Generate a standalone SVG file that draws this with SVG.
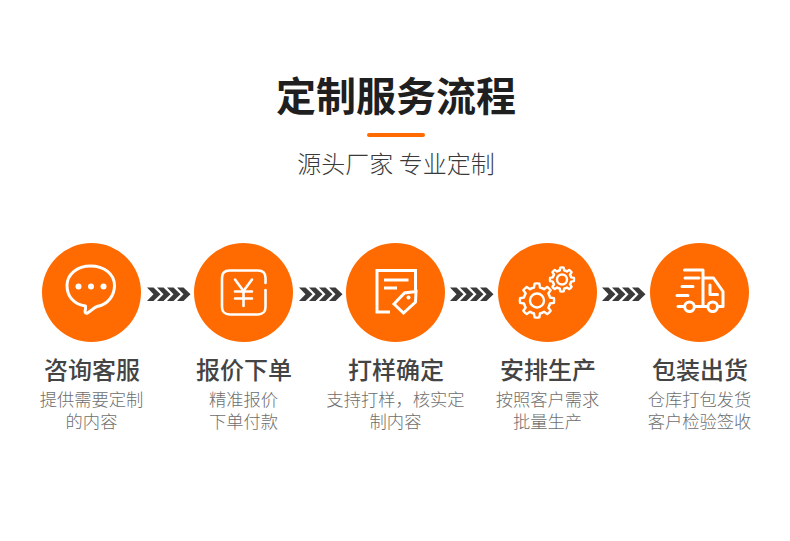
<svg xmlns="http://www.w3.org/2000/svg" width="790" height="541" viewBox="0 0 790 541">
<style>
text{font-family:"Noto Sans CJK SC","Noto Sans",sans-serif;text-anchor:middle}
.title{font-size:40px;font-weight:700;fill:#1f1f1f}
.subtitle{font-size:24px;font-weight:300;fill:#3a3a3a}
.label{font-size:24px;font-weight:500;fill:#444}
.desc{font-size:17.300px;font-weight:300;fill:#6e6e6e}
.disc{fill:#ff6b00}
.ic{fill:none;stroke:#fff;stroke-width:3;stroke-linecap:round;stroke-linejoin:round}
.sq{stroke-linecap:butt;stroke-linejoin:miter;stroke-width:3}
.chev{fill:#3a3a3a}
</style>
<defs>
<path id="c" d="M0 0H6.500L13.500 6.750L6.500 13.500H0L6.500 6.750Z"/>
<g id="chevs" class="chev">
<use href="#c"/><use href="#c" x="10"/><use href="#c" x="20"/><use href="#c" x="30"/>
</g>
<path id="t" d="M12.930-5.360A14 14 0 0 1 13.640-3.150L17.820-2.510A18 18 0 0 1 17.820 2.510L13.640 3.150A14 14 0 0 1 12.930 5.360"/>
<g id="gear">
<use href="#t"/><use href="#t" transform="rotate(45)"/><use href="#t" transform="rotate(90)"/><use href="#t" transform="rotate(135)"/><use href="#t" transform="rotate(180)"/><use href="#t" transform="rotate(225)"/><use href="#t" transform="rotate(270)"/><use href="#t" transform="rotate(315)"/>
</g>
</defs>
<rect width="790" height="541" fill="#fff"/>
<g id="header">
<text class="title" x="396" y="111">定制服务流程</text>
<rect x="367" y="133" width="58" height="4" rx="2" fill="#ff6b00"/>
<text class="subtitle" x="396" y="173">源头厂家 专业定制</text>
</g>
<g id="connectors">
<use href="#chevs" x="147" y="287.500"/>
<use href="#chevs" x="299" y="287.500"/>
<use href="#chevs" x="450" y="287.500"/>
<use href="#chevs" x="602" y="287.500"/>
</g>
<g id="node-1">
<circle class="disc" cx="91.500" cy="292.500" r="49.500"/>
<path class="ic" d="M85.500 309C84.500 312 85 314 87.500 313C91 311 94 307.500 97 306.500C108 304.500 114.500 295.500 114.500 285.500C114.500 274 104 266 90.500 266C77 266 67 274.500 67 285.500C67 296.500 74 304.500 85.500 306Z"/>
<circle cx="78.500" cy="286.500" r="3" fill="#fff"/><circle cx="91" cy="286.500" r="3" fill="#fff"/><circle cx="103.500" cy="286.500" r="3" fill="#fff"/>
<text class="label" x="92" y="379">咨询客服</text>
<text class="desc" x="91.500" y="406">提供需要定制</text>
<text class="desc" x="91.500" y="428">的内容</text>
</g>
<g id="node-2">
<circle class="disc" cx="243.500" cy="292.500" r="49.500"/>
<path class="ic" style="stroke-width:2.600" d="M265.500 283V278C265.500 273 262.500 270.500 258 270.500H229.500C225 270.500 222 273 222 278V307C222 311.500 225 314.500 229.500 314.500H258C262.500 314.500 265.500 311.500 265.500 307V290"/>
<path class="ic" style="stroke-width:2.600" d="M235 279.500L243.500 291L252 279.500M235 291.500H252M235 298.500H252M243.500 291V306"/>
<text class="label" x="244" y="379">报价下单</text>
<text class="desc" x="243.500" y="406">精准报价</text>
<text class="desc" x="243.500" y="428">下单付款</text>
</g>
<g id="node-3">
<circle class="disc" cx="395.500" cy="292.500" r="49.500"/>
<path class="ic sq" d="M390 312H377V270.500H415.500V290"/>
<path class="ic sq" d="M384 280H408.500M384 288H397"/>
<path class="ic sq" d="M394 304L404.500 293L416 291.500L415.500 302L403.500 313Z"/>
<circle cx="408.500" cy="297.500" r="2" fill="#fff"/>
<text class="label" x="396" y="379">打样确定</text>
<text class="desc" x="395.500" y="406">支持打样，核实定</text>
<text class="desc" x="395.500" y="428">制内容</text>
</g>
<g id="node-4">
<circle class="disc" cx="547.500" cy="292.500" r="49.500"/>
<use href="#gear" class="ic" style="stroke-width:2.500" transform="translate(537 300.500) scale(.95)"/>
<circle class="ic" style="stroke-width:2.400" cx="537" cy="300.500" r="7"/>
<use href="#gear" class="ic" style="stroke-width:3.500" transform="translate(562 279.500) scale(.67)"/>
<circle class="ic" style="stroke-width:2.400" cx="562" cy="279.500" r="5"/>
<text class="label" x="548" y="379">安排生产</text>
<text class="desc" x="547.500" y="406">按照客户需求</text>
<text class="desc" x="547.500" y="428">批量生产</text>
</g>
<g id="node-5">
<circle class="disc" cx="699.500" cy="292.500" r="49.500"/>
<path class="ic" d="M684.500 270H703V306.500M695 306.500H707M703 278H713.500L723 291.500V306.500H718M710 285V294.500H717.500"/>
<path class="ic" d="M685 278H699M682 286.500H693M677 295.500H688M678 306.500H684"/>
<circle class="ic" cx="689.500" cy="306.700" r="4.800"/>
<circle class="ic" cx="712.700" cy="306.700" r="4.800"/>
<text class="label" x="700" y="379">包装出货</text>
<text class="desc" x="699.500" y="406">仓库打包发货</text>
<text class="desc" x="699.500" y="428">客户检验签收</text>
</g>
</svg>
